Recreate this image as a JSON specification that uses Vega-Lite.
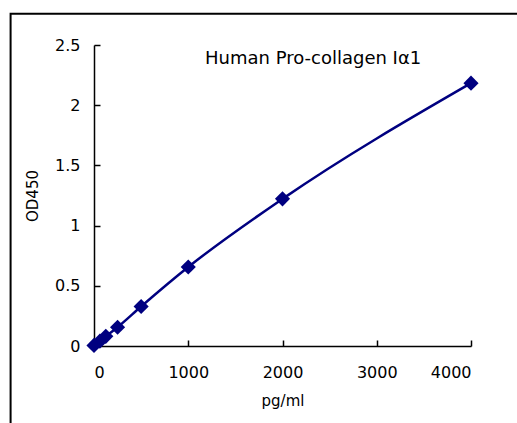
{
  "$schema": "https://vega.github.io/schema/vega-lite/v6.json",
  "autosize": "none",
  "width": 377,
  "height": 301,
  "padding": {"left": 94, "top": 45, "right": 46, "bottom": 77},
  "background": "white",
  "config": {
    "view": {"stroke": null},
    "font": "DejaVu Sans",
    "axis": {"grid": false, "domainColor": "black", "domainWidth": 1.5, "tickColor": "black", "tickWidth": 1.5, "labelColor": "black", "titleColor": "black", "labelFontSize": 16, "titleFontSize": 15, "titleFontWeight": "normal", "labelFont": "DejaVu Sans", "titleFont": "DejaVu Sans"}
  },
  "datasets": {
    "curve": [
      {"conc": 0, "od": 0.005},
      {"conc": 62.5, "od": 0.04},
      {"conc": 125, "od": 0.08},
      {"conc": 250, "od": 0.156},
      {"conc": 500, "od": 0.328},
      {"conc": 1000, "od": 0.656},
      {"conc": 2000, "od": 1.222},
      {"conc": 4000, "od": 2.183}
    ],
    "notes": [{"label": "Human Pro-collagen Iα1", "lx": 2325, "ly": 2.38}]
  },
  "layer": [
    {
      "data": {"name": "curve"},
      "mark": {"type": "line", "color": "#000080", "strokeWidth": 2.5, "interpolate": "monotone"},
      "encoding": {
        "x": {"field": "conc", "type": "quantitative", "scale": {"domain": [0, 4000], "nice": false, "zero": false},
          "axis": {"title": "pg/ml", "values": [0, 1000, 2000, 3000, 4000], "tickSize": -6, "labelPadding": 24, "titlePadding": 13, "format": "d"}},
        "y": {"field": "od", "type": "quantitative", "scale": {"domain": [0, 2.5], "nice": false, "zero": false},
          "axis": {"title": "OD450", "values": [0, 0.5, 1, 1.5, 2, 2.5], "tickSize": -6, "labelPadding": 20, "titlePadding": 14, "format": "~g"}}
      }
    },
    {
      "data": {"name": "curve"},
      "mark": {"type": "point", "shape": "diamond", "filled": true, "color": "#000080", "size": 230, "opacity": 1},
      "encoding": {
        "x": {"field": "conc", "type": "quantitative"},
        "y": {"field": "od", "type": "quantitative"}
      }
    },
    {
      "data": {"name": "notes"},
      "mark": {"type": "text", "font": "DejaVu Sans", "fontSize": 18, "fontWeight": "normal", "fill": "black", "align": "center", "baseline": "middle"},
      "encoding": {
        "text": {"field": "label"},
        "x": {"field": "lx", "type": "quantitative"},
        "y": {"field": "ly", "type": "quantitative"}
      }
    },
    {
      "data": {"name": "notes"},
      "mark": {"type": "rect", "fill": null, "stroke": "black", "strokeWidth": 2, "clip": false},
      "encoding": {
        "x": {"datum": -885, "type": "quantitative"},
        "x2": {"datum": 6000},
        "y": {"datum": 2.76, "type": "quantitative"},
        "y2": {"datum": -2}
      }
    }
  ]
}
